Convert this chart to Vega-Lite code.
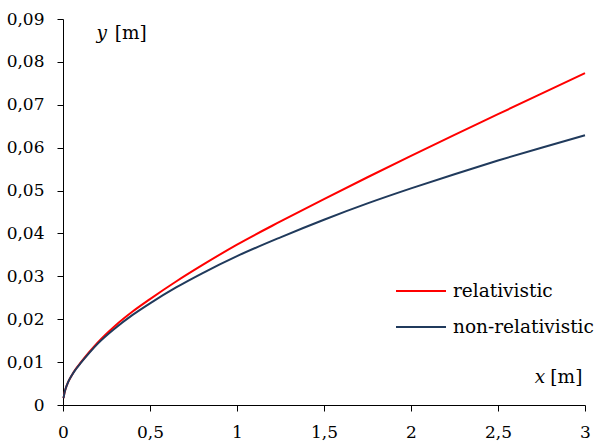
{
  "$schema": "https://vega.github.io/schema/vega-lite/v6.json",
  "width": 522,
  "height": 386,
  "autosize": "none",
  "padding": {"left": 63, "top": 19, "right": 13, "bottom": 36},
  "background": "white",
  "config": {
    "view": {"stroke": null},
    "font": "DejaVu Serif",
    "locale": {"number": {"decimal": ",", "thousands": " ", "grouping": [3], "currency": ["", ""]}},
    "axis": {
      "grid": false,
      "domainColor": "#000000",
      "domainWidth": 1,
      "tickColor": "#000000",
      "tickWidth": 1,
      "tickSize": 6,
      "labelFont": "DejaVu Serif",
      "labelFontSize": 17,
      "labelColor": "#000000",
      "labelFlush": false,
      "title": null,
      "format": "~g"
    },
    "legend": {
      "symbolType": "stroke",
      "symbolSize": 2500,
      "symbolStrokeWidth": 2,
      "labelFont": "DejaVu Serif",
      "labelFontSize": 18.5,
      "labelColor": "#000000",
      "labelOffset": 6,
      "rowPadding": -28,
      "padding": 0
    }
  },
  "data": {
    "values": [
      {"x": 0.003, "y": 0.0016, "series": "relativistic"},
      {"x": 0.008, "y": 0.0027, "series": "relativistic"},
      {"x": 0.015, "y": 0.0038, "series": "relativistic"},
      {"x": 0.03, "y": 0.0054, "series": "relativistic"},
      {"x": 0.05, "y": 0.0069, "series": "relativistic"},
      {"x": 0.075, "y": 0.0085, "series": "relativistic"},
      {"x": 0.1, "y": 0.0098, "series": "relativistic"},
      {"x": 0.15, "y": 0.0123, "series": "relativistic"},
      {"x": 0.2, "y": 0.0146, "series": "relativistic"},
      {"x": 0.3, "y": 0.0185, "series": "relativistic"},
      {"x": 0.4, "y": 0.0218, "series": "relativistic"},
      {"x": 0.5, "y": 0.0247, "series": "relativistic"},
      {"x": 0.65, "y": 0.0288, "series": "relativistic"},
      {"x": 0.8, "y": 0.0326, "series": "relativistic"},
      {"x": 1.0, "y": 0.0374, "series": "relativistic"},
      {"x": 1.25, "y": 0.0428, "series": "relativistic"},
      {"x": 1.5, "y": 0.0480, "series": "relativistic"},
      {"x": 1.75, "y": 0.0531, "series": "relativistic"},
      {"x": 2.0, "y": 0.0581, "series": "relativistic"},
      {"x": 2.25, "y": 0.0630, "series": "relativistic"},
      {"x": 2.5, "y": 0.0678, "series": "relativistic"},
      {"x": 2.75, "y": 0.0726, "series": "relativistic"},
      {"x": 3.0, "y": 0.0774, "series": "relativistic"},
      {"x": 0.003, "y": 0.0016, "series": "non-relativistic"},
      {"x": 0.008, "y": 0.0027, "series": "non-relativistic"},
      {"x": 0.015, "y": 0.0038, "series": "non-relativistic"},
      {"x": 0.03, "y": 0.0054, "series": "non-relativistic"},
      {"x": 0.05, "y": 0.0069, "series": "non-relativistic"},
      {"x": 0.075, "y": 0.0084, "series": "non-relativistic"},
      {"x": 0.1, "y": 0.0097, "series": "non-relativistic"},
      {"x": 0.15, "y": 0.0121, "series": "non-relativistic"},
      {"x": 0.2, "y": 0.0143, "series": "non-relativistic"},
      {"x": 0.3, "y": 0.0179, "series": "non-relativistic"},
      {"x": 0.4, "y": 0.0210, "series": "non-relativistic"},
      {"x": 0.5, "y": 0.0237, "series": "non-relativistic"},
      {"x": 0.65, "y": 0.0274, "series": "non-relativistic"},
      {"x": 0.8, "y": 0.0307, "series": "non-relativistic"},
      {"x": 1.0, "y": 0.0347, "series": "non-relativistic"},
      {"x": 1.25, "y": 0.0391, "series": "non-relativistic"},
      {"x": 1.5, "y": 0.0432, "series": "non-relativistic"},
      {"x": 1.75, "y": 0.0470, "series": "non-relativistic"},
      {"x": 2.0, "y": 0.0505, "series": "non-relativistic"},
      {"x": 2.25, "y": 0.0538, "series": "non-relativistic"},
      {"x": 2.5, "y": 0.0570, "series": "non-relativistic"},
      {"x": 2.75, "y": 0.0600, "series": "non-relativistic"},
      {"x": 3.0, "y": 0.0629, "series": "non-relativistic"}
    ]
  },
  "layer": [
    {
      "transform": [{"filter": "datum.series == 'relativistic'"}],
      "mark": {"type": "line", "strokeWidth": 2, "interpolate": "monotone"},
      "encoding": {
        "x": {"field": "x", "type": "quantitative", "scale": {"domain": [0, 3], "nice": false},
              "axis": {"values": [0, 0.5, 1, 1.5, 2, 2.5, 3], "labelPadding": 13}},
        "y": {"field": "y", "type": "quantitative", "scale": {"domain": [0, 0.09], "nice": false},
              "axis": {"values": [0, 0.01, 0.02, 0.03, 0.04, 0.05, 0.06, 0.07, 0.08, 0.09], "labelPadding": 13}},
        "color": {"field": "series", "type": "nominal",
                  "scale": {"domain": ["relativistic", "non-relativistic"], "range": ["#FF0000", "#203A5C"]},
                  "legend": {"title": null, "orient": "none", "legendX": 332, "legendY": 246}}
      }
    },
    {
      "transform": [{"filter": "datum.series == 'non-relativistic'"}],
      "mark": {"type": "line", "strokeWidth": 2, "interpolate": "monotone"},
      "encoding": {
        "x": {"field": "x", "type": "quantitative"},
        "y": {"field": "y", "type": "quantitative"},
        "color": {"field": "series", "type": "nominal"}
      }
    },
    {
      "data": {"values": [{"t": "y"}]},
      "mark": {"type": "text", "font": "DejaVu Serif", "fontSize": 18.5, "fontStyle": "italic", "align": "left", "baseline": "alphabetic", "color": "#000000"},
      "encoding": {
        "x": {"datum": 0.192, "type": "quantitative"},
        "y": {"datum": 0.0853, "type": "quantitative"},
        "text": {"field": "t"}
      }
    },
    {
      "data": {"values": [{"t": "[m]"}]},
      "mark": {"type": "text", "font": "DejaVu Serif", "fontSize": 18.5, "align": "left", "baseline": "alphabetic", "color": "#000000"},
      "encoding": {
        "x": {"datum": 0.297, "type": "quantitative"},
        "y": {"datum": 0.0853, "type": "quantitative"},
        "text": {"field": "t"}
      }
    },
    {
      "data": {"values": [{"t": "x"}]},
      "mark": {"type": "text", "font": "DejaVu Serif", "fontSize": 18.5, "fontStyle": "italic", "align": "left", "baseline": "alphabetic", "color": "#000000"},
      "encoding": {
        "x": {"datum": 2.711, "type": "quantitative"},
        "y": {"datum": 0.0051, "type": "quantitative"},
        "text": {"field": "t"}
      }
    },
    {
      "data": {"values": [{"t": "[m]"}]},
      "mark": {"type": "text", "font": "DejaVu Serif", "fontSize": 18.5, "align": "left", "baseline": "alphabetic", "color": "#000000"},
      "encoding": {
        "x": {"datum": 2.801, "type": "quantitative"},
        "y": {"datum": 0.0051, "type": "quantitative"},
        "text": {"field": "t"}
      }
    }
  ]
}
